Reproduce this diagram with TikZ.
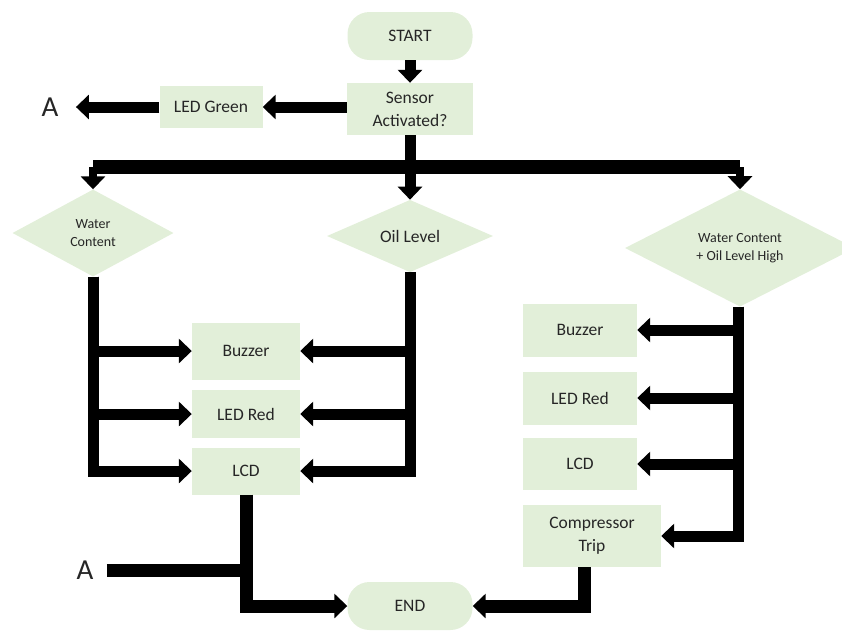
\documentclass[tikz,border=0pt]{standalone}
\usepackage{fontspec}
\setmainfont{Carlito}
\usetikzlibrary{shapes.geometric, arrows.meta}
\definecolor{boxgreen}{HTML}{E2EFD9}
\tikzset{box/.style = {rectangle, fill=boxgreen, minimum width=108pt, minimum height=50pt, align=center, text=black!85, font=\fontsize{17.5}{23}\selectfont}}
\tikzset{terminal/.style = {box, rounded corners=22pt, minimum width=125pt, minimum height=48pt}}
\tikzset{decision/.style = {diamond, fill=boxgreen, inner sep=0pt, align=center, text=black!85, font=\fontsize{14}{18.5}\selectfont}}
\tikzset{line/.style = {line width=11pt, black}}
\tikzset{arrow/.style = {line, -{Triangle[width=24pt,length=13pt]}}}
\tikzset{letter/.style = {text=black!85, font=\fontsize{29}{29}\selectfont}}

\begin{document}
\begin{tikzpicture}[x=1pt,y=-1pt]
\clip (0,0) rectangle (842,630);

% start and first decision
\node[terminal] (start) at (410,36) {START};
\node[box, minimum width=126pt, minimum height=52pt] (sensor) at (410,109) {Sensor\\Activated?};
\node[box, minimum width=103pt, minimum height=42pt] (ledg) at (211,107) {LED Green};
\node[letter] (atop) at (50,107) {A};

% decisions
\node[decision, minimum width=161pt, minimum height=87pt] (wc) at (93,233) {Water\\Content};
\node[decision, minimum width=166pt, minimum height=69pt, font=\fontsize{17.5}{20}\selectfont] (oil) at (410,236) {Oil Level};
\node[decision, minimum width=230pt, minimum height=117pt] (both) at (740,248) {Water Content\\+ Oil Level High};

% outputs, middle
\node[box, minimum height=57pt] (buzz) at (246,351) {Buzzer};
\node[box, minimum height=48pt] (ledr) at (246,414) {LED Red};
\node[box, minimum height=47pt] (lcd) at (246,471) {LCD};

% outputs, right
\node[box, minimum width=114pt, minimum height=53pt] (buzzb) at (580,330) {Buzzer};
\node[box, minimum width=114pt, minimum height=53pt] (ledrb) at (580,398) {LED Red};
\node[box, minimum width=114pt, minimum height=52pt] (lcdb) at (580,464) {LCD};
\node[box, minimum width=138pt, minimum height=62pt] (comp) at (592,536) {Compressor\\Trip};

% end
\node[terminal] (end) at (410,606) {END};
\node[letter] (abot) at (85,570) {A};

\coordinate (bus) at (410,167);

\draw[arrow] (start) -- (sensor);
\draw[arrow] (sensor.west |- ledg.east) -- (ledg.east);
\draw[arrow, shorten >=14pt] (ledg) -- (atop);

\draw[arrow] (sensor) -- (oil);
\draw[line, line width=14pt] (bus) -- (wc.north |- bus);
\draw[line, line width=14pt] (bus) -- (both.north |- bus);
\draw[arrow, line width=8pt] (wc.north |- bus) -- (wc.north);
\draw[arrow, line width=8pt] (both.north |- bus) -- (both.north);

\draw[arrow] (wc.south) |- (buzz.west);
\draw[arrow] (wc.south) |- (ledr.west);
\draw[arrow] (wc.south) |- (lcd.west);

\draw[arrow] (oil.south) |- (buzz.east);
\draw[arrow] (oil.south) |- (ledr.east);
\draw[arrow] (oil.south) |- (lcd.east);

\draw[arrow] ([xshift=-2pt]both.south) |- (buzzb.east);
\draw[arrow] ([xshift=-2pt]both.south) |- (ledrb.east);
\draw[arrow] ([xshift=-2pt]both.south) |- (lcdb.east);
\draw[arrow] ([xshift=-2pt]both.south) |- (comp.east);

\draw[arrow, line width=13pt] (lcd.south) |- (end.west);
\draw[line, line width=13pt, shorten <=10pt] (abot.east) -- (abot.east -| lcd.south);
\draw[arrow, line width=13pt] ([xshift=-8pt]comp.south) |- (end.east);

\end{tikzpicture}
\end{document}
